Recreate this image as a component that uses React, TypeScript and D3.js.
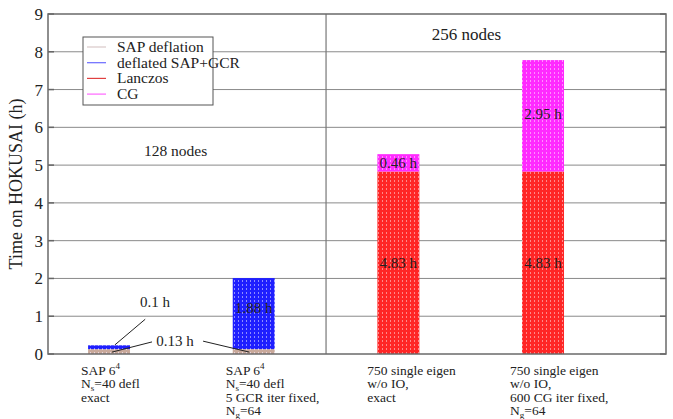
import React from "react";
import * as d3 from "d3";

// Timing breakdown (hours) per run configuration
const categories = [1, 2, 3, 4];
const categoryLines: string[][] = [
  ["SAP 6^4", "N_s=40 defl", "exact"],
  ["SAP 6^4", "N_s=40 defl", "5 GCR iter fixed,", "N_g=64"],
  ["750 single eigen", "w/o IO,", "exact"],
  ["750 single eigen", "w/o IO,", "600 CG iter fixed,", "N_g=64"],
];
const seriesNames = ["SAP deflation", "deflated SAP+GCR", "Lanczos", "CG"];
const sapDeflation = [0.13, 0.13, 0, 0];
const deflatedGcr = [0.1, 1.88, 0, 0];
const lanczos = [0, 0, 4.83, 4.83];
const cg = [0, 0, 0.46, 2.95];
const yTicks = [0, 1, 2, 3, 4, 5, 6, 7, 8, 9];

const seriesColors = ["#c9a99b", "#1f1fff", "#ff2626", "#ff2aff"];
const legendLineColors = ["#d8c8c8", "#6a6aff", "#e04040", "#ff66ff"];
const stripeColors = ["#f0e0ea", "#a0a0ff", "#ff9a9a", "#ffa0ff"];

const W = 673;
const H = 419;
const left = 48;
const right = 666;
const top = 14;
const bottom = 354;
const FONT = "'Liberation Serif', 'Times New Roman', serif";

const x = d3.scaleLinear().domain([0.578, 4.85]).range([left, right]);
const y = d3.scaleLinear().domain([0, 9]).range([bottom, top]);
const barW = 0.29;

function richText(s: string) {
  // "^" marks a superscript, "_" a subscript (one character)
  const m = s.match(/^(.*?)([\^_])(\w)(.*)$/);
  if (!m) return <tspan>{s}</tspan>;
  const up = m[2] === "^";
  return (
    <>
      <tspan>{m[1]}</tspan>
      <tspan fontSize="9" dy={up ? -6 : 3}>{m[3]}</tspan>
      <tspan dy={up ? 6 : -3}>{m[4]}</tspan>
    </>
  );
}

export default function App() {
  const stacked = categories.map((c, i) => {
    const vals = [sapDeflation[i], deflatedGcr[i], lanczos[i], cg[i]];
    let acc = 0;
    return vals.map((v, k) => {
      const seg = { cat: c, k, y0: acc, y1: acc + v, v };
      acc += v;
      return seg;
    });
  });

  return (
    <svg width={W} height={H} style={{ display: "block", position: "absolute", left: 0, top: 0 }} fontFamily={FONT}>
      <defs>
        {seriesColors.map((col, k) => (
          <pattern key={k} id={`hatch${k}`} width="4" height="4" patternUnits="userSpaceOnUse">
            <rect width="4" height="4" fill={col} />
            <rect x="2" y="0" width="1" height="2" fill={stripeColors[k]} opacity="0.85" />
          </pattern>
        ))}
      </defs>
      <rect width={W} height={H} fill="#fff" />

      {/* grid */}
      {yTicks.slice(1, -1).map((t) => (
        <line key={t} x1={left} x2={right} y1={y(t)} y2={y(t)} stroke="#8a8a8a" strokeWidth={1} />
      ))}
      {yTicks.map((t) => (
        <g key={"tk" + t}>
          <line x1={left} x2={left + 6} y1={y(t)} y2={y(t)} stroke="#666" strokeWidth={1.5} />
          <line x1={right - 6} x2={right} y1={y(t)} y2={y(t)} stroke="#666" strokeWidth={1.5} />
          <text x={left - 5} y={y(t) + 6} textAnchor="end" fontSize="17" fill="#222">{t}</text>
        </g>
      ))}
      <line x1={x(2.5)} x2={x(2.5)} y1={top} y2={bottom} stroke="#777" strokeWidth={1.2} />

      {/* bars */}
      {stacked.flat().filter((s) => s.v > 0).map((s, i) => (
        <rect
          key={i}
          x={x(s.cat - barW / 2)}
          width={x(barW) - x(0)}
          y={y(s.y1)}
          height={y(s.y0) - y(s.y1)}
          fill={`url(#hatch${s.k})`}
        />
      ))}

      {/* value labels */}
      <g fontSize="15" fill="#222" textAnchor="middle">
        <text x={x(2)} y={y(1.2) + 4}>1.88 h</text>
        <text x={x(3)} y={y(4.83 / 2) + 5}>4.83 h</text>
        <text x={x(4)} y={y(4.83 / 2) + 5}>4.83 h</text>
        <text x={x(3)} y={y(4.83 + 0.46 / 2) + 5}>0.46 h</text>
        <text x={x(4)} y={y(4.83 + 2.95 / 2) + 3}>2.95 h</text>
        <text x={x(1.317)} y={y(1.25)}>0.1 h</text>
        <text x={x(1.456)} y={y(0.21)}>0.13 h</text>
      </g>
      <g stroke="#222" strokeWidth={1}>
        <line x1={x(1.25)} y1={y(0.92)} x2={x(1.04)} y2={y(0.24)} />
        <line x1={x(1.297)} y1={y(0.32)} x2={x(1.02)} y2={y(0.05)} />
        <line x1={x(1.65)} y1={y(0.34)} x2={x(1.97)} y2={y(0.05)} />
      </g>

      <text x={x(1.46)} y={y(5.25)} fontSize="15.5" textAnchor="middle" fill="#222">128 nodes</text>
      <text x={x(3.47)} y={y(8.3)} fontSize="17" textAnchor="middle" fill="#222">256 nodes</text>

      {/* frame */}
      <rect x={left} y={top} width={right - left} height={bottom - top} fill="none" stroke="#6a6a6a" strokeWidth={1.5} />

      {/* legend */}
      <g>
        <rect x={83} y={37} width={130} height={68} fill="#fff" stroke="#555" strokeWidth={1} />
        {seriesNames.map((n, k) => (
          <g key={n} transform={`translate(0, ${47 + k * 15.7})`}>
            <line x1={87} x2={106} y1={0} y2={0} stroke={legendLineColors[k]} strokeWidth={1.2} />
            <text x={117} y={5} fontSize="15.5" fill="#222">{n}</text>
          </g>
        ))}
      </g>

      {/* category labels */}
      {categories.map((c, i) => (
        <text key={c} fontSize="13.5" fill="#222">
          {categoryLines[i].map((ln, j) => (
            <tspan key={j} x={x(c) - (i < 2 ? 28 : 31 + (i - 2) * 2)} y={375 + j * 13.3}>
              {richText(ln)}
            </tspan>
          ))}
        </text>
      ))}

      {/* y axis title */}
      <text transform={`translate(22, ${(top + bottom) / 2}) rotate(-90)`} textAnchor="middle" fontSize="18" fill="#222">
        Time on HOKUSAI (h)
      </text>
    </svg>
  );
}
